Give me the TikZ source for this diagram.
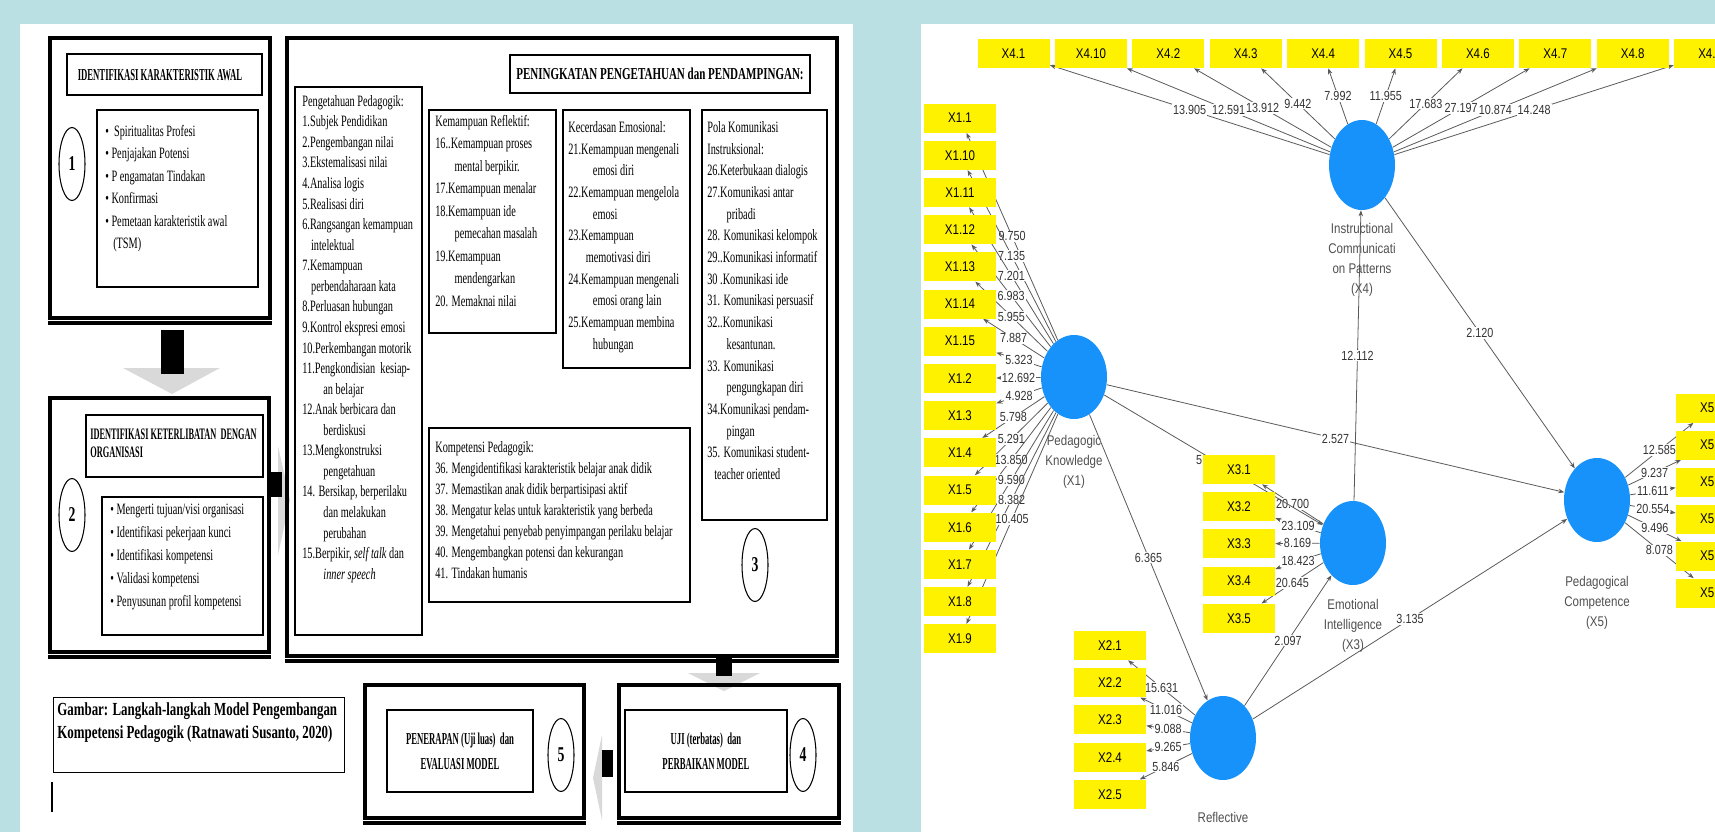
\documentclass[tikz,border=0pt]{standalone}
\usepackage{fontspec}
\setmainfont{Liberation Serif}
\newfontfamily\bodyfont{Liberation Serif}[FakeStretch=0.65]
\newfontfamily\headfont{Liberation Serif}[FakeStretch=0.52]
\newfontfamily\headwide{Liberation Serif}[FakeStretch=0.66]
\newfontfamily\captfont{Liberation Serif}[FakeStretch=0.70]
\newfontfamily\plsfont{Liberation Sans}[FakeStretch=0.82]
\usepackage{xcolor}
\usetikzlibrary{arrows.meta,positioning,shapes.geometric,fit}
\pgfdeclarelayer{bg}
\pgfdeclarelayer{links}
\pgfsetlayers{bg,links,main}

\definecolor{slidebg}{RGB}{187,224,228}
\definecolor{lvblue}{RGB}{22,146,250}
\definecolor{lvtext}{RGB}{80,80,80}

\begin{document}
\begin{tikzpicture}[x=0.02cm, y=-0.02cm,
  stagebox/.style={draw, line width=2.4pt, inner sep=0pt},
  inbox/.style={draw, line width=0.6pt, inner sep=0pt},
  numring/.style={draw, ellipse, line width=0.6pt, inner sep=0pt, minimum width=0.52cm, minimum height=1.46cm, font=\bodyfont\fontsize{12}{12}\selectfont\bfseries},
  head/.style={font=\headfont\fontsize{9.5}{10.2}\selectfont\bfseries, inner sep=0pt, align=left},
  body/.style={font=\bodyfont\fontsize{9}{12.35}\selectfont, inner sep=0pt, align=left, anchor=north west},
  lv/.style={ellipse, fill=lvblue, inner sep=0pt, minimum width=1.32cm, minimum height=1.68cm},
  lvlab/.style={font=\plsfont\fontsize{8}{11.4}\selectfont, text=lvtext, align=center, inner sep=0pt},
  ind/.style={fill=yellow, inner sep=0pt, minimum width=1.44cm, minimum height=0.58cm, font=\plsfont\fontsize{8}{9}\selectfont},
  ldg/.style={draw=black!65, line width=0.45pt, -{Stealth[length=1.2mm,width=0.9mm]}},
  val/.style={font=\plsfont\fontsize{7.5}{8}\selectfont, text=black!80, fill=white, inner sep=0.6pt}
]
\useasboundingbox (0,0) rectangle (1715,832);
\begin{pgfonlayer}{bg}
\fill[slidebg] (0,0) rectangle (1715,832);
\fill[white] (20,24) rectangle (853,832);
\fill[white] (921,24) rectangle (1715,832);
\end{pgfonlayer}

% ---- left: langkah-langkah model
\node[stagebox, fit={(50,38) (270,318)}] (st1) {};
\node[inbox, fit={(67,54) (262,95)}] (hd1) {};
\node[head] at (160,75) {IDENTIFIKASI KARAKTERISTIK AWAL};
\node[numring] (nr1) at (72,164) {1};
\node[inbox, fit={(97,110) (258,287)}] (ls1) {};
\node[body, font=\bodyfont\fontsize{9}{12.8}\selectfont] at (105,125) {\textbullet\ \ Spiritualitas Profesi\\\textbullet\ Penjajakan Potensi\\\textbullet\ P engamatan Tindakan\\\textbullet\ Konfirmasi\\\textbullet\ Pemetaan karakteristik awal\\\hspace*{4.5pt}(TSM)};

\fill[gray!30] (123,368) -- (220,368) -- (172,394) -- cycle;
\fill (161,330) rectangle (184,374);

\node[stagebox, fit={(50,398) (269,652)}] (st2) {};
\node[inbox, fit={(86,415) (263,477)}] (hd2) {};
\node[head, anchor=north west, font=\headfont\fontsize{9.1}{10.2}\selectfont\bfseries] at (90,429) {IDENTIFIKASI KETERLIBATAN\ \ DENGAN\\ORGANISASI};
\node[numring] (nr2) at (72,515) {2};
\node[inbox, fit={(102,497) (263,635)}] (ls2) {};
\node[body, font=\bodyfont\fontsize{9}{13.1}\selectfont] at (110,504) {\textbullet\ Mengerti tujuan/visi organisasi\\\textbullet\ Identifikasi pekerjaan kunci\\\textbullet\ Identifikasi kompetensi\\\textbullet\ Validasi kompetensi\\\textbullet\ Penyusunan profil kompetensi};

\fill[gray!30] (278,446) -- (290,500) -- (278,555) -- cycle;
\fill (271,472) rectangle (282,497);

\node[stagebox, fit={(287,38) (837,656)}] (st3) {};
\node[inbox, fit={(510,55) (810,93)}] (hd3) {};
\node[head, font=\headwide\fontsize{9.5}{10.2}\selectfont\bfseries] at (hd3) {PENINGKATAN PENGETAHUAN dan PENDAMPINGAN:};

\node[inbox, fit={(295,87) (422,635)}] (cb1) {};
\node[body, font=\bodyfont\fontsize{9}{11.7}\selectfont] at (302,95) {Pengetahuan Pedagogik:\\1.Subjek Pendidikan\\2.Pengembangan nilai\\3.Ekstemalisasi nilai\\4.Analisa logis\\5.Realisasi diri\\6.Rangsangan kemampuan\\\hspace*{5pt}intelektual\\7.Kemampuan\\\hspace*{5pt}perbendaharaan kata\\8.Perluasan hubungan\\9.Kontrol ekspresi emosi\\10.Perkembangan motorik\\11.Pengkondisian\ \ kesiap-\\\hspace*{12pt}an belajar\\12.Anak berbicara dan\\\hspace*{12pt}berdiskusi\\13.Mengkonstruksi\\\hspace*{12pt}pengetahuan\\14. Bersikap, berperilaku\\\hspace*{12pt}dan melakukan\\\hspace*{12pt}perubahan\\15.Berpikir, \textit{self talk} dan\\\hspace*{12pt}\textit{inner speech}};

\node[inbox, fit={(429,110) (556,333)}] (cb2) {};
\node[body, font=\bodyfont\fontsize{9}{12.8}\selectfont] at (435,115) {Kemampuan Reflektif:\\16..Kemampuan proses\\\hspace*{11pt}mental berpikir.\\17.Kemampuan menalar\\18.Kemampuan ide\\\hspace*{11pt}pemecahan masalah\\19.Kemampuan\\\hspace*{11pt}mendengarkan\\20. Memaknai nilai};

\node[inbox, fit={(563,110) (690,368)}] (cb3) {};
\node[body] at (568,121) {Kecerdasan Emosional:\\21.Kemampuan mengenali\\\hspace*{14pt}emosi diri\\22.Kemampuan mengelola\\\hspace*{14pt}emosi\\23.Kemampuan\\\hspace*{10pt}memotivasi diri\\24.Kemampuan mengenali\\\hspace*{14pt}emosi orang lain\\25.Kemampuan membina\\\hspace*{14pt}hubungan};

\node[inbox, fit={(702,110) (827,520)}] (cb4) {};
\node[body] at (707,121) {Pola Komunikasi\\Instruksional:\\26.Keterbukaan dialogis\\27.Komunikasi antar\\\hspace*{11pt}pribadi\\28. Komunikasi kelompok\\29..Komunikasi informatif\\30 .Komunikasi ide\\31. Komunikasi persuasif\\32..Komunikasi\\\hspace*{11pt}kesantunan.\\33. Komunikasi\\\hspace*{11pt}pengungkapan diri\\34.Komunikasi pendam-\\\hspace*{11pt}pingan\\35. Komunikasi student-\\\hspace*{4pt}teacher oriented};
\node[numring] (nr3) at (755,565) {3};

\node[inbox, fit={(429,428) (690,602)}] (cb5) {};
\node[body, font=\bodyfont\fontsize{9}{12}\selectfont] at (435,441) {Kompetensi Pedagogik:\\36. Mengidentifikasi karakteristik belajar anak didik\\37. Memastikan anak didik berpartisipasi aktif\\38. Mengatur kelas untuk karakteristik yang berbeda\\39. Mengetahui penyebab penyimpangan perilaku belajar\\40. Mengembangkan potensi dan kekurangan\\41. Tindakan humanis};

\fill[gray!30] (688,673) -- (760,673) -- (724,691) -- cycle;
\fill (716,656) rectangle (732,676);

\node[stagebox, fit={(619,685) (839,818)}] (st4) {};
\node[inbox, fit={(625,710) (787,792)}] (ft4) {};
\node[head, align=center] at (ft4) {UJI (terbatas)\ \ dan\\[4pt]PERBAIKAN MODEL};
\node[numring] (nr4) at (803,755) {4};

\fill[gray!30] (602,735) -- (593,778) -- (602,820) -- cycle;
\fill (602,750) rectangle (613,777);

\node[stagebox, fit={(365,685) (584,818)}] (st5) {};
\node[inbox, fit={(387,710) (533,792)}] (ft5) {};
\node[head, align=center] at (ft5) {PENERAPAN (Uji luas)\ \ dan\\[4pt]EVALUASI MODEL};
\node[numring] (nr5) at (561,755) {5};

% heavier bottom edge of the stage frames
\foreach \s in {st1,st2,st3,st4,st5}
  \draw[line width=1.8pt] ([yshift=-1.6pt]\s.south west) -- ([yshift=-1.6pt]\s.south east);

\node[inbox, line width=0.5pt, fit={(53,697) (344,772)}] (cap) {};
\node[font=\captfont\fontsize{10.5}{13.5}\selectfont\bfseries, anchor=north west, inner sep=0pt, align=left] at (57,702) {Gambar: Langkah-langkah Model Pengembangan\\Kompetensi Pedagogik (Ratnawati Susanto, 2020)};
\draw[line width=0.8pt] (52,782) -- (52,812);

% ---- right: model struktural
\node[lv] (pk) at (1074,377) {};
\node[lv, minimum height=1.8cm] (icp) at (1362,165) {};
\node[lv] (emi) at (1353,543) {};
\node[lv] (rft) at (1223,738) {};
\node[lv] (pdc) at (1597,500) {};
\node[lvlab, below=0.31cm of pk] (pk-l) {Pedagogic\\Knowledge\\(X1)};
\node[lvlab, below=0.26cm of icp] (icp-l) {Instructional\\Communicati\\on Patterns\\(X4)};
\node[lvlab, below=0.28cm of emi] (emi-l) {Emotional\\Intelligence\\(X3)};
\node[lvlab, below=0.68cm of pdc] (pdc-l) {Pedagogical\\Competence\\(X5)};
\node[lvlab, below=0.64cm of rft] (rft-l) {Reflective};

\foreach \k [count=\i from 0] in {1,10,11,12,13,14,15,2,3,4,5,6,7,8,9}
  \node[ind] (x1-\k) at (960,{118+37.2*\i}) {X1.\k};
\foreach \k [count=\i from 0] in {1,10,2,3,4,5,6,7,8,9}
  \node[ind] (x4-\k) at ({1013.5+77.4*\i},53.5) {X4.\k};
\foreach \k in {1,2,3,4,5}
  \node[ind] (x3-\k) at (1239,{469.5+37.2*(\k-1)}) {X3.\k};
\foreach \k in {1,2,3,4,5}
  \node[ind] (x2-\k) at (1110,{645.5+37.2*(\k-1)}) {X2.\k};
\foreach \k in {1,2,3,4,5,6}
  \node[ind] (x5-\k) at (1712,{408+37*(\k-1)}) {X5.\k};

\begin{pgfonlayer}{links}
\foreach \k/\v in {1/9.750,10/7.135,11/7.201,12/6.983,13/5.955,14/7.887,15/5.323,2/12.692,3/4.928,4/5.798,5/5.291,6/13.850,7/9.590,8/8.382,9/10.405}
  \draw[ldg] (pk) -- node[val]{\v} (x1-\k);
\foreach \k/\v in {1/13.905,10/12.591,2/13.912,3/9.442,4/7.992,5/11.955,6/17.683,7/27.197,8/10.874,9/14.248}
  \draw[ldg] (icp) -- node[val]{\v} (x4-\k);
\foreach \k/\v in {1/20.700,2/23.109,3/8.169,4/18.423,5/20.645}
  \draw[ldg] (emi) -- node[val]{\v} (x3-\k);
\foreach \k/\v in {1/15.631,2/11.016,3/9.088,4/9.265,5/5.846}
  \draw[ldg] (rft) -- node[val]{\v} (x2-\k);
\foreach \k/\v in {1/12.585,2/9.237,3/11.611,4/20.554,5/9.496,6/8.078}
  \draw[ldg] (pdc) -- node[val]{\v} (x5-\k);

\draw[ldg] (emi) -- node[val]{12.112} (icp);
\draw[ldg] (icp) -- node[val]{2.120} (pdc);
\draw[ldg] (pk) -- node[val]{2.527} (pdc);
\draw[ldg] (pk) -- node[val, pos=0.455, anchor=north east]{5} (emi);
\draw[ldg] (pk) -- node[val]{6.365} (rft);
\draw[ldg] (rft) -- node[val]{2.097} (emi);
\draw[ldg] (rft) -- node[val]{3.135} (pdc);
\end{pgfonlayer}
\end{tikzpicture}
\end{document}
